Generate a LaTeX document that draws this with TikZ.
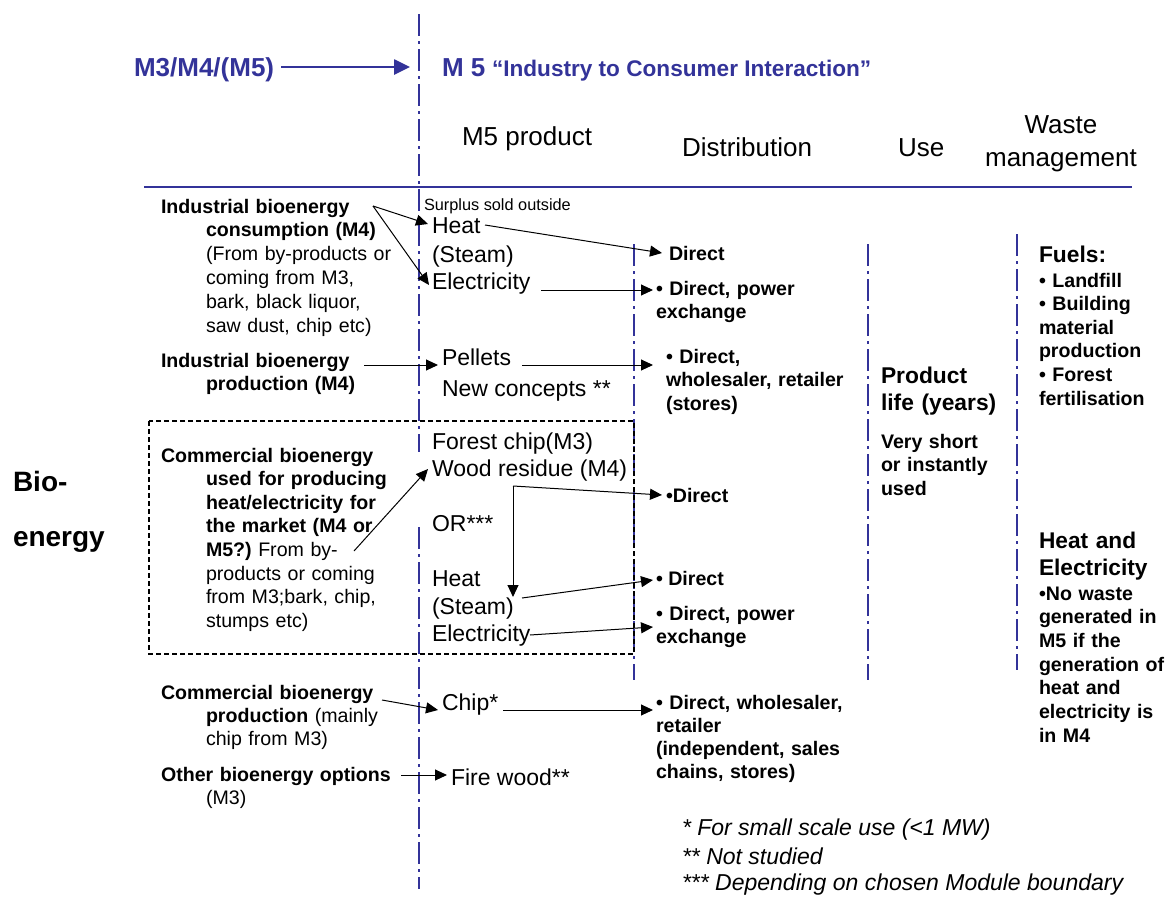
\documentclass[tikz,border=0pt]{standalone}
\usepackage{fontspec}
\setmainfont{Liberation Sans}
\usetikzlibrary{arrows.meta,calc}
\definecolor{pblue}{RGB}{51,51,153}
\begin{document}
\begin{tikzpicture}[x=1pt,y=-1pt,
  every node/.style={inner sep=0pt,outer sep=0pt,anchor=base west},
  blk/.style={align=left,text width=260pt},
  ftitle/.style={font=\fontsize{26}{30}\selectfont\bfseries,text=pblue},
  fsub/.style={font=\fontsize{22.6}{26}\selectfont\bfseries,text=pblue},
  fhead/.style={font=\fontsize{26}{31}\selectfont},
  fleft/.style={font=\fontsize{19.6}{23.8}\selectfont},
  fprod/.style={font=\fontsize{23}{27.5}\selectfont},
  fsmall/.style={font=\fontsize{16.3}{19}\selectfont},
  fdist/.style={font=\fontsize{19.6}{23.8}\selectfont\bfseries},
  fbig/.style={font=\fontsize{22.8}{27.5}\selectfont\bfseries},
  fbio/.style={font=\fontsize{28}{34}\selectfont\bfseries},
  fnote/.style={font=\fontsize{23}{28}\selectfont\itshape},
  vline/.style={draw=pblue,line width=2.9pt,dash pattern=on 22pt off 5pt on 3pt off 5pt},
  hline/.style={draw=pblue,line width=2.9pt},
  dbox/.style={draw=black,line width=1.3pt,dash pattern=on 5pt off 3pt},
  arr/.style={draw=black,line width=1pt,-{Triangle[length=12pt,width=11pt]}},
  tarr/.style={draw=pblue,line width=2.6pt,-{Triangle[length=16pt,width=15pt]}}
]
\useasboundingbox (0,0) rectangle (1173,897);

% ---------- lines ----------
\draw[vline] (419,14) -- (419,452);
\draw[vline] (419,527) -- (419,889);
\draw[vline] (634,244) -- (634,680);
\draw[vline] (868,244) -- (868,680);
\draw[vline] (1017,234) -- (1017,670);
\draw[hline] (144,187) -- (1132,187);
\draw[dbox] (149,421) rectangle (634,654);

% ---------- title ----------
\node[ftitle] (src) at (134,76) {M3/M4/(M5)};
\node[ftitle] (m5) at (442,76) {M 5};
\node[fsub] (m5t) at (492,76) {“Industry to Consumer Interaction”};
\draw[tarr] ($(src.base west)+(147,-9)$) -- ($(m5.base west)+(-32,-9)$);

% ---------- headers ----------
\node[fhead] (hprod) at (462,145) {M5 product};
\node[fhead] (hdist) at (682,156) {Distribution};
\node[fhead] (huse) at (898,156) {Use};
\node[fhead,anchor=base] (hwaste1) at (1061,133) {Waste};
\node[fhead,anchor=base] (hwaste2) at (1061,166) {management};

% ---------- left column ----------
\node[fbio] (bio1) at (13,491) {Bio-};
\node[fbio] (bio2) at (13,546) {energy};

\node[fleft,blk] (ind1) at (161,213) {\textbf{Industrial bioenergy}\\\hspace*{45pt}\textbf{consumption (M4)}\\\hspace*{45pt}(From by-products or\\\hspace*{45pt}coming from M3,\\\hspace*{45pt}bark, black liquor,\\\hspace*{45pt}saw dust, chip etc)};
\node[fleft,blk] (ind2) at (161,367) {\textbf{Industrial bioenergy}\\\hspace*{45pt}\textbf{production (M4)}};
\node[fleft,blk,font=\fontsize{19.6}{23.6}\selectfont] (com1) at (161,462) {\textbf{Commercial bioenergy}\\\hspace*{45pt}\textbf{used for producing}\\\hspace*{45pt}\textbf{heat/electricity for}\\\hspace*{45pt}\textbf{the market (M4 or}\\\hspace*{45pt}\textbf{M5?)}~From by-\\\hspace*{45pt}products or coming\\\hspace*{45pt}from M3;bark, chip,\\\hspace*{45pt}stumps etc)};
\node[fleft,blk,font=\fontsize{19.6}{23}\selectfont] (com2) at (161,699) {\textbf{Commercial bioenergy}\\\hspace*{45pt}\textbf{production} (mainly\\\hspace*{45pt}chip from M3)};
\node[fleft,blk] (other) at (161,781) {\textbf{Other bioenergy options}\\\hspace*{45pt}(M3)};

% ---------- product column ----------
\node[fsmall] (surplus) at (424,210) {Surplus sold outside};
\node[fprod] (heat1) at (432,233) {Heat};
\node[fprod] (steam1) at (432,262) {(Steam)};
\node[fprod] (elec1) at (432,289) {Electricity};
\node[fprod] (pellets) at (442,365) {Pellets};
\node[fprod] (newc) at (442,396) {New concepts **};
\node[fprod] (forest) at (432,449) {Forest chip(M3)};
\node[fprod] (wood) at (432,476) {Wood residue (M4)};
\node[fprod] (orr) at (432,531) {OR***};
\node[fprod] (heat2) at (432,586) {Heat};
\node[fprod] (steam2) at (432,614) {(Steam)};
\node[fprod] (elec2) at (432,641) {Electricity};
\node[fprod] (chip) at (442,710) {Chip*};
\node[fprod] (fire) at (451,785) {Fire wood**};

% ---------- distribution column ----------
\node[fdist] (d1) at (669,260) {Direct};
\node[fdist,blk] (d2) at (656,295) {• Direct, power\\exchange};
\node[fdist,blk] (d3) at (666,363) {• Direct,\\wholesaler, retailer\\(stores)};
\node[fdist] (d4) at (666,502) {•Direct};
\node[fdist] (d5) at (656,585) {• Direct};
\node[fdist,blk] (d6) at (656,620) {• Direct, power\\exchange};
\node[fdist,blk,font=\fontsize{19.6}{23.3}\selectfont\bfseries] (d7) at (656,709) {• Direct, wholesaler,\\retailer\\(independent, sales\\chains, stores)};

% ---------- use column ----------
\node[fbig,blk] (prod) at (881,383) {Product\\life (years)};
\node[fdist,blk] (vshort) at (881,448) {Very short\\or instantly\\used};

% ---------- waste column ----------
\node[fbig] (fuels) at (1039,262) {Fuels:};
\node[fdist,blk,font=\fontsize{19.6}{23.6}\selectfont\bfseries] (fuell) at (1039,287) {• Landfill\\• Building\\material\\production\\• Forest\\fertilisation};
\node[fbig,blk,font=\fontsize{22.7}{27}\selectfont\bfseries] (he) at (1039,548) {Heat and\\Electricity};
\node[fdist,blk,font=\fontsize{19.6}{23.7}\selectfont\bfseries] (hel) at (1039,600) {•No waste\\generated in\\M5 if the\\generation of\\heat and\\electricity is\\in M4};

% ---------- footnotes ----------
\node[fnote] (n1) at (682,835) {* For small scale use (<1 MW)};
\node[fnote] (n2) at (682,864) {** Not studied};
\node[fnote] (n3) at (682,890) {*** Depending on chosen Module boundary};

% ---------- connectors ----------
\coordinate (s1) at ($(ind1.base west)+(212,-7)$);
\draw[arr] (s1) -- ($(heat1.base west)+(-4,-9)$);
\draw[arr] (s1) -- ($(elec1.base west)+(-3,-4)$);
\draw[arr] ($(heat1.base west)+(53,-8)$) -- ($(d1.base west)+(-7,-7)$);
\draw[arr] ($(elec1.base west)+(109,1)$) -- ($(d2.base west)+(-3,-5)$);
\draw[arr] ($(ind2.base west)+(203,-2)$) -- ($(pellets.base west)+(-4,0)$);
\draw[arr] ($(pellets.base west)+(80,0)$) -- ($(d3.base west)+(-13,2)$);
\draw[arr] ($(com1.base west)+(193,89)$) -- ($(wood.base west)+(-4,-7)$);
\coordinate (w1) at ($(wood.base west)+(81,10)$);
\draw[arr] (w1) -- ($(d4.base west)+(-4,-7)$);
\draw[arr] (w1) -- ($(steam2.base west)+(81,-17)$);
\draw[arr] ($(steam2.base west)+(90,-16)$) -- ($(d5.base west)+(-3,-5)$);
\draw[arr] ($(elec2.base west)+(98,-6)$) -- ($(d6.base west)+(-3,7)$);
\draw[arr] ($(com2.base west)+(221,1)$) -- ($(chip.base west)+(-4,0)$);
\draw[arr] ($(chip.base west)+(61,0)$) -- ($(d7.base west)+(-3,1)$);
\draw[arr] ($(other.base west)+(240,-6)$) -- ($(fire.base west)+(-4,-10)$);
\end{tikzpicture}
\end{document}
